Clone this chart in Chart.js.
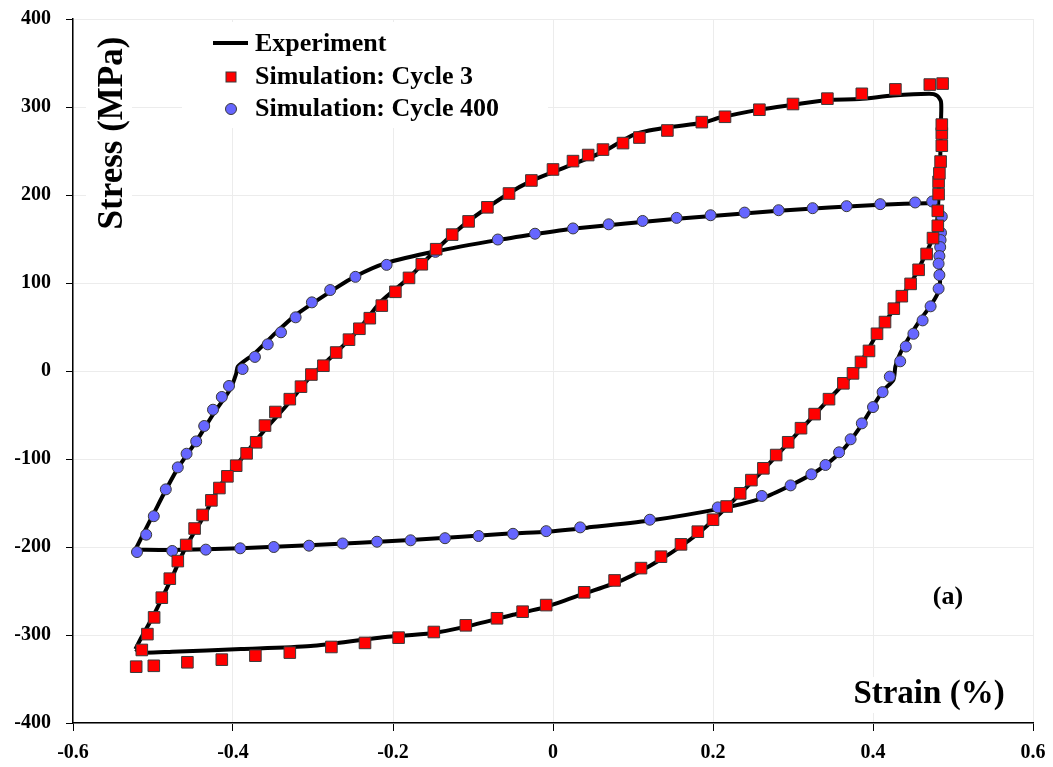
<!DOCTYPE html>
<html>
<head>
<meta charset="utf-8">
<script src="https://cdn.jsdelivr.net/npm/chart.js@4/dist/chart.umd.min.js"></script>
<style>
  html, body { margin: 0; padding: 0; background: #fff; }
  #wrap { width: 1053px; height: 767px; }
</style>
</head>
<body>
<div id="wrap"><canvas id="loopChart" width="1053" height="767"></canvas></div>
<script>
// ---- data (strain in %, stress in MPa) ----
const xTickValues = [-0.6, -0.4, -0.2, 0, 0.2, 0.4, 0.6];
const xTickLabels = ['-0.6', '-0.4', '-0.2', '0', '0.2', '0.4', '0.6'];
const yTickValues = [-400, -300, -200, -100, 0, 100, 200, 300, 400];

const seriesNames = ['Experiment', 'Simulation: Cycle 3', 'Simulation: Cycle 400'];

// experiment, cycle 3 loop
const exp3Strain = [-0.522, -0.514, -0.500, -0.476, -0.459, -0.437, -0.416, -0.394, -0.364, -0.329, -0.303,
  -0.271, -0.242, -0.216, -0.180, -0.146, -0.106, -0.055, -0.027, 0.000, 0.0625, 0.102, 0.141, 0.188, 0.209,
  0.258, 0.300, 0.343, 0.383, 0.425, 0.470, 0.480, 0.485, 0.485, 0.484, 0.482, 0.480, 0.474, 0.466, 0.450,
  0.436, 0.420, 0.405, 0.390, 0.377, 0.345, 0.298, 0.256, 0.217, 0.181, 0.135, 0.086, 0.039, -0.0085, -0.050,
  -0.109, -0.152, -0.217, -0.303, -0.390, -0.476, -0.515, -0.522];
const exp3Stress = [-316, -302, -279, -234, -200, -166, -130, -105, -71, -35, -6,
  21, 48, 78, 106, 138, 170, 202, 216, 226, 249, 269, 276.5, 282, 288,
  297, 302.6, 308, 309, 313, 315, 313, 306, 285, 240, 200, 170, 150, 133, 104,
  85, 62, 42, 18, -1, -32, -78, -119, -155, -185, -214, -238, -253, -268, -277,
  -290.5, -298, -303, -312.5, -316, -319, -320, -316];

// experiment, cycle 400 loop
const exp400Strain = [-0.522, -0.511, -0.498, -0.485, -0.468, -0.446, -0.424, -0.403, -0.396, -0.394, -0.373,
  -0.347, -0.321, -0.282, -0.248, -0.209, -0.146, -0.068, -0.015, 0.027, 0.155, 0.282, 0.409, 0.467, 0.479,
  0.485, 0.485, 0.484, 0.483, 0.474, 0.459, 0.443, 0.434, 0.428, 0.4255, 0.413, 0.400, 0.383, 0.362, 0.332,
  0.298, 0.260, 0.206, 0.121, 0.043, -0.0085, -0.050, -0.178, -0.305, -0.391, -0.476, -0.522];
const exp400Stress = [-203, -183, -160, -137, -109, -80, -48, -20, -3, 5, 20,
  43, 64, 88, 107, 122.5, 136, 149, 156.6, 162, 173, 182, 189, 190.7, 189.6,
  180, 157, 119, 93, 77, 58, 35, 20, 5, -10, -22, -40, -65, -90, -112.5,
  -129.5, -145, -157, -170, -178, -182.6, -184.5, -192, -198, -201.5, -203.4, -203];

// simulation, cycle 3 (red squares)
const sim3Strain = [-0.521, -0.499, -0.457, -0.414, -0.372, -0.329, -0.277, -0.235, -0.193, -0.149, -0.109,
  -0.070, -0.038, -0.0085, 0.039, 0.077, 0.110, 0.135, 0.160, 0.181, 0.200, 0.217, 0.234, 0.248, 0.263,
  0.279, 0.294, 0.310, 0.327, 0.345, 0.363, 0.375, 0.385, 0.395, 0.405, 0.415, 0.426, 0.436, 0.447, 0.457,
  0.467, 0.475, 0.481, 0.481, 0.482, 0.482, 0.483, 0.4845, 0.486, 0.486, 0.486, 0.487, 0.471, 0.428, 0.386,
  0.343, 0.300, 0.258, 0.215, 0.186, 0.143, 0.108, 0.0875, 0.0625, 0.044, 0.025, 0.000, -0.027, -0.055,
  -0.082, -0.1055, -0.126, -0.146, -0.164, -0.180, -0.197, -0.214, -0.229, -0.242, -0.255, -0.271, -0.287,
  -0.302, -0.315, -0.329, -0.347, -0.360, -0.371, -0.383, -0.396, -0.407, -0.417, -0.427, -0.438, -0.448,
  -0.4585, -0.469, -0.479, -0.489, -0.4986, -0.507, -0.514];
const sim3Stress = [-336, -335, -331, -328, -323.5, -320, -313.6, -309, -303, -296.6, -289,
  -281, -273.5, -266, -251.5, -238, -224, -211, -197, -182.6, -169, -154, -139, -124, -110.6,
  -95.5, -81, -65, -49, -32, -14, -2.7, 10.3, 22.8, 42.3, 55.6, 70.8, 85, 99, 115,
  133, 151, 165, 182, 201, 215, 224.6, 238, 256, 270, 280, 326.6, 325.5, 320, 315,
  309.5, 303.4, 296.9, 288.9, 282.8, 273.3, 265.3, 259, 251.6, 245.4, 238.5, 229, 216.5, 201.7,
  186, 170, 155, 138.4, 121.3, 105.8, 90, 74.3, 60, 48, 35.6, 21, 6,
  -4, -17.8, -32, -46.6, -62, -81, -93.6, -107.6, -119.7, -133, -147, -163.6, -179,
  -197.7, -216, -236, -257.6, -280, -299, -317];

// simulation, cycle 400 (blue circles)
const sim400Strain = [-0.520, -0.5085, -0.499, -0.484, -0.469, -0.458, -0.446, -0.436, -0.425, -0.414, -0.405,
  -0.388, -0.3726, -0.3566, -0.340, -0.3217, -0.3014, -0.2785, -0.247, -0.208, -0.147, -0.069, -0.0225, 0.025,
  0.0696, 0.112, 0.1545, 0.197, 0.2395, 0.282, 0.3245, 0.367, 0.409, 0.4527, 0.474, 0.486, 0.485, 0.4845,
  0.484, 0.483, 0.482, 0.483, 0.482, 0.472, 0.462, 0.4505, 0.441, 0.434, 0.421, 0.412, 0.400, 0.386, 0.372,
  0.3576, 0.3406, 0.323, 0.297, 0.261, 0.206, 0.121, 0.034, -0.0085, -0.050, -0.093, -0.135, -0.178, -0.220,
  -0.263, -0.305, -0.349, -0.391, -0.434, -0.476];
const sim400Stress = [-205.7, -186, -165, -134.5, -109.5, -94, -80, -62.5, -44, -29.5, -17,
  2.3, 16, 30.3, 44, 61, 78, 92, 107, 120.6, 135.4, 149.4, 156, 162,
  166.7, 170.5, 174, 177, 180, 182.7, 185, 187.3, 189.6, 191.5, 192.6, 175.5, 157, 148.8,
  140.8, 130.6, 122, 109, 93.6, 73.5, 57.5, 42.3, 27.8, 11, -6.4, -24, -41, -59.5, -77.6,
  -92.4, -106.8, -117.4, -130, -142, -155, -169, -177.7, -182, -185, -187.5, -190, -192.4, -194,
  -196, -198.5, -200, -201.5, -203, -204.5];

// ---- helpers ----
function toPoints(xs, ys) {
  return xs.map((x, i) => ({ x: x, y: ys[i] }));
}

const SERIF = "'Liberation Serif', 'DejaVu Serif', serif";
const RED = '#ff0000';
const BLUE = '#6666ff';
const MARKER_EDGE = '#3a3a3a';

// legend, axis titles and panel tag live inside the plot area
const paperDecor = {
  id: 'paperDecor',
  beforeDatasetsDraw(chart) {
    const ctx = chart.ctx;
    ctx.save();
    ctx.fillStyle = '#ffffff';
    // white boxes behind legend and titles hide the gridlines, as in the paper figure
    ctx.fillRect(182, 22, 366, 106);
    ctx.fillRect(86, 30, 46, 206);
    ctx.fillRect(848, 677, 162, 36);
    ctx.restore();
  },
  afterDraw(chart) {
    const ctx = chart.ctx;
    ctx.save();
    ctx.fillStyle = '#000';
    ctx.textBaseline = 'middle';
    ctx.textAlign = 'left';

    // legend
    ctx.strokeStyle = '#000';
    ctx.lineWidth = 4;
    ctx.beginPath();
    ctx.moveTo(213, 43);
    ctx.lineTo(248, 43);
    ctx.stroke();

    ctx.lineWidth = 1;
    ctx.strokeStyle = MARKER_EDGE;
    ctx.fillStyle = RED;
    ctx.fillRect(226, 72, 10, 10);
    ctx.strokeRect(226, 72, 10, 10);

    ctx.fillStyle = BLUE;
    ctx.beginPath();
    ctx.arc(231, 109, 5.5, 0, Math.PI * 2);
    ctx.fill();
    ctx.stroke();

    ctx.fillStyle = '#000';
    ctx.font = 'bold 26px ' + SERIF;
    ctx.fillText(seriesNames[0], 255, 44);
    ctx.fillText(seriesNames[1], 255, 77);
    ctx.fillText(seriesNames[2], 255, 109);

    // axis titles
    ctx.textAlign = 'center';
    ctx.font = 'bold 33px ' + SERIF;
    ctx.fillText('Strain (%)', 929, 694);

    ctx.save();
    ctx.font = 'bold 35px ' + SERIF;
    ctx.translate(113, 133);
    ctx.rotate(-Math.PI / 2);
    ctx.fillText('Stress (MPa)', 0, 0);
    ctx.restore();

    ctx.font = 'bold 26px ' + SERIF;
    ctx.fillText('(a)', 948, 597);
    ctx.restore();
  }
};

const ctx = document.getElementById('loopChart').getContext('2d');
new Chart(ctx, {
  type: 'scatter',
  data: {
    datasets: [
      {
        label: seriesNames[0],
        data: toPoints(exp3Strain, exp3Stress),
        showLine: true,
        borderColor: '#000',
        borderWidth: 4,
        pointRadius: 0,
        tension: 0.25,
        order: 3
      },
      {
        label: seriesNames[0] + ' (cycle 400)',
        data: toPoints(exp400Strain, exp400Stress),
        showLine: true,
        borderColor: '#000',
        borderWidth: 4,
        pointRadius: 0,
        tension: 0.25,
        order: 3
      },
      {
        label: seriesNames[2],
        data: toPoints(sim400Strain, sim400Stress),
        pointStyle: 'circle',
        pointRadius: 5.5,
        backgroundColor: BLUE,
        borderColor: MARKER_EDGE,
        borderWidth: 1,
        order: 2
      },
      {
        label: seriesNames[1],
        data: toPoints(sim3Strain, sim3Stress),
        pointStyle: 'rect',
        pointRadius: 8.2,
        backgroundColor: RED,
        borderColor: MARKER_EDGE,
        borderWidth: 1,
        order: 1
      }
    ]
  },
  options: {
    responsive: false,
    animation: false,
    layout: {
      padding: { left: 0, top: 19, right: 20, bottom: 0 }
    },
    plugins: {
      legend: { display: false },
      tooltip: { enabled: false }
    },
    scales: {
      x: {
        type: 'linear',
        min: -0.6,
        max: 0.6,
        afterBuildTicks: (scale) => {
          scale.ticks = xTickValues.map(v => ({ value: v }));
        },
        afterFit: (scale) => {
          scale.height = 44;
          // keep the plot edges where the layout padding puts them
          scale.paddingLeft = 0;
          scale.paddingRight = 0;
        },
        ticks: {
          color: '#000',
          padding: 10,
          maxRotation: 0,
          font: { family: SERIF, size: 20, weight: 'bold' },
          callback: (value, index) => xTickLabels[index]
        },
        grid: {
          color: '#ececec',
          lineWidth: 1,
          tickLength: 8,
          tickColor: '#000'
        },
        border: { color: '#000', width: 1.5 }
      },
      y: {
        type: 'linear',
        min: -400,
        max: 400,
        afterBuildTicks: (scale) => {
          scale.ticks = yTickValues.map(v => ({ value: v }));
        },
        afterFit: (scale) => {
          scale.width = 73;
          scale.paddingTop = 0;
          scale.paddingBottom = 0;
        },
        ticks: {
          color: '#000',
          padding: 15,
          font: { family: SERIF, size: 20, weight: 'bold' },
          callback: (value) => String(value)
        },
        grid: {
          color: '#ececec',
          lineWidth: 1,
          tickLength: 7,
          tickColor: '#000'
        },
        border: { color: '#000', width: 1.5 }
      }
    }
  },
  plugins: [paperDecor]
});
</script>
</body>
</html>
